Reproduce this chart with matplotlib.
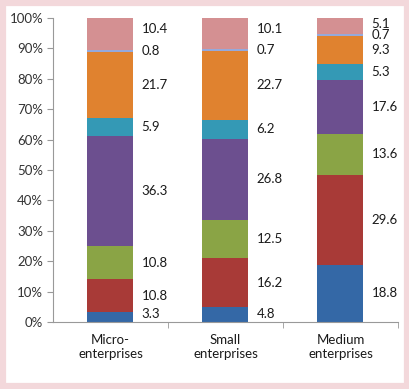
import matplotlib
matplotlib.use("Agg")
import matplotlib.pyplot as plt
from matplotlib.patches import Rectangle
import numpy as np

plt.rcParams['font.family'] = ['Lato', 'DejaVu Sans']

categories = ["Micro-\nenterprises", "Small\nenterprises", "Medium\nenterprises"]

# series from bottom to top
s1 = [3.3, 4.8, 18.8]
s2 = [10.8, 16.2, 29.6]
s3 = [10.8, 12.5, 13.6]
s4 = [36.3, 26.8, 17.6]
s5 = [5.9, 6.2, 5.3]
s6 = [21.7, 22.7, 9.3]
s7 = [0.8, 0.7, 0.7]
s8 = [10.4, 10.1, 5.1]

series = [s1, s2, s3, s4, s5, s6, s7, s8]
colors = ['#3468a6', '#a83a37', '#8aa445', '#6c4f8f', '#3499b5',
          '#e0822f', '#95a9dc', '#d49092']

fig = plt.figure(figsize=(4.10, 3.89), dpi=100, facecolor='white')
fig.patches.append(Rectangle((3/410, 3/389), 404/410, 383/389,
                             transform=fig.transFigure, fill=False,
                             edgecolor='#f3d8db', linewidth=4.5, zorder=5))

ax = fig.add_axes([53/410, 1 - 322/389, 345/410, 304/389])

x = np.arange(len(categories))
bottom = np.zeros(len(categories))
label_y = []
for vals, c in zip(series, colors):
    vals = np.array(vals)
    ax.bar(x, vals, 0.4, bottom=bottom, color=c, edgecolor='none')
    label_y.append(bottom + vals / 2)
    bottom += vals
label_y = np.array(label_y)

# keep labels apart: push from the top down, then from the bottom up
gap = 3.7
for i in range(len(x)):
    ys = label_y[:, i]
    ys[-1] = min(ys[-1] + 1.5, 98)
    for k in range(len(ys) - 2, -1, -1):
        ys[k] = min(ys[k], ys[k + 1] - gap)
    ys[0] = max(ys[0], 2.6)
    for k in range(1, len(ys)):
        ys[k] = max(ys[k], ys[k - 1] + gap)
    for vals, y in zip(series, ys):
        ax.text(x[i] + 0.27, y, f"{vals[i]:.1f}", va='center', ha='left',
                fontsize=9.5, color='#1a1a1a')

ax.set_xlim(-0.5, 2.5)
ax.set_ylim(0, 100)
ax.set_yticks(np.arange(0, 101, 10))
ax.set_yticklabels([f"{v}%" for v in range(0, 101, 10)], fontsize=9.5, color='#333333')
ax.set_xticks(x)
ax.set_xticklabels(categories, fontsize=9.5, color='#1a1a1a', linespacing=1.1)
ax.set_xticks([0.5, 1.5, 2.5], minor=True)
ax.tick_params(axis='x', which='major', length=0, pad=9)
ax.tick_params(axis='x', which='minor', length=4, color='#999999')
ax.tick_params(axis='y', length=4, color='#999999', pad=3)
for s in ['top', 'right']:
    ax.spines[s].set_visible(False)
ax.spines['left'].set_color('#999999')
ax.spines['bottom'].set_color('#999999')

fig.savefig('out.png', dpi=100, facecolor=fig.get_facecolor())
